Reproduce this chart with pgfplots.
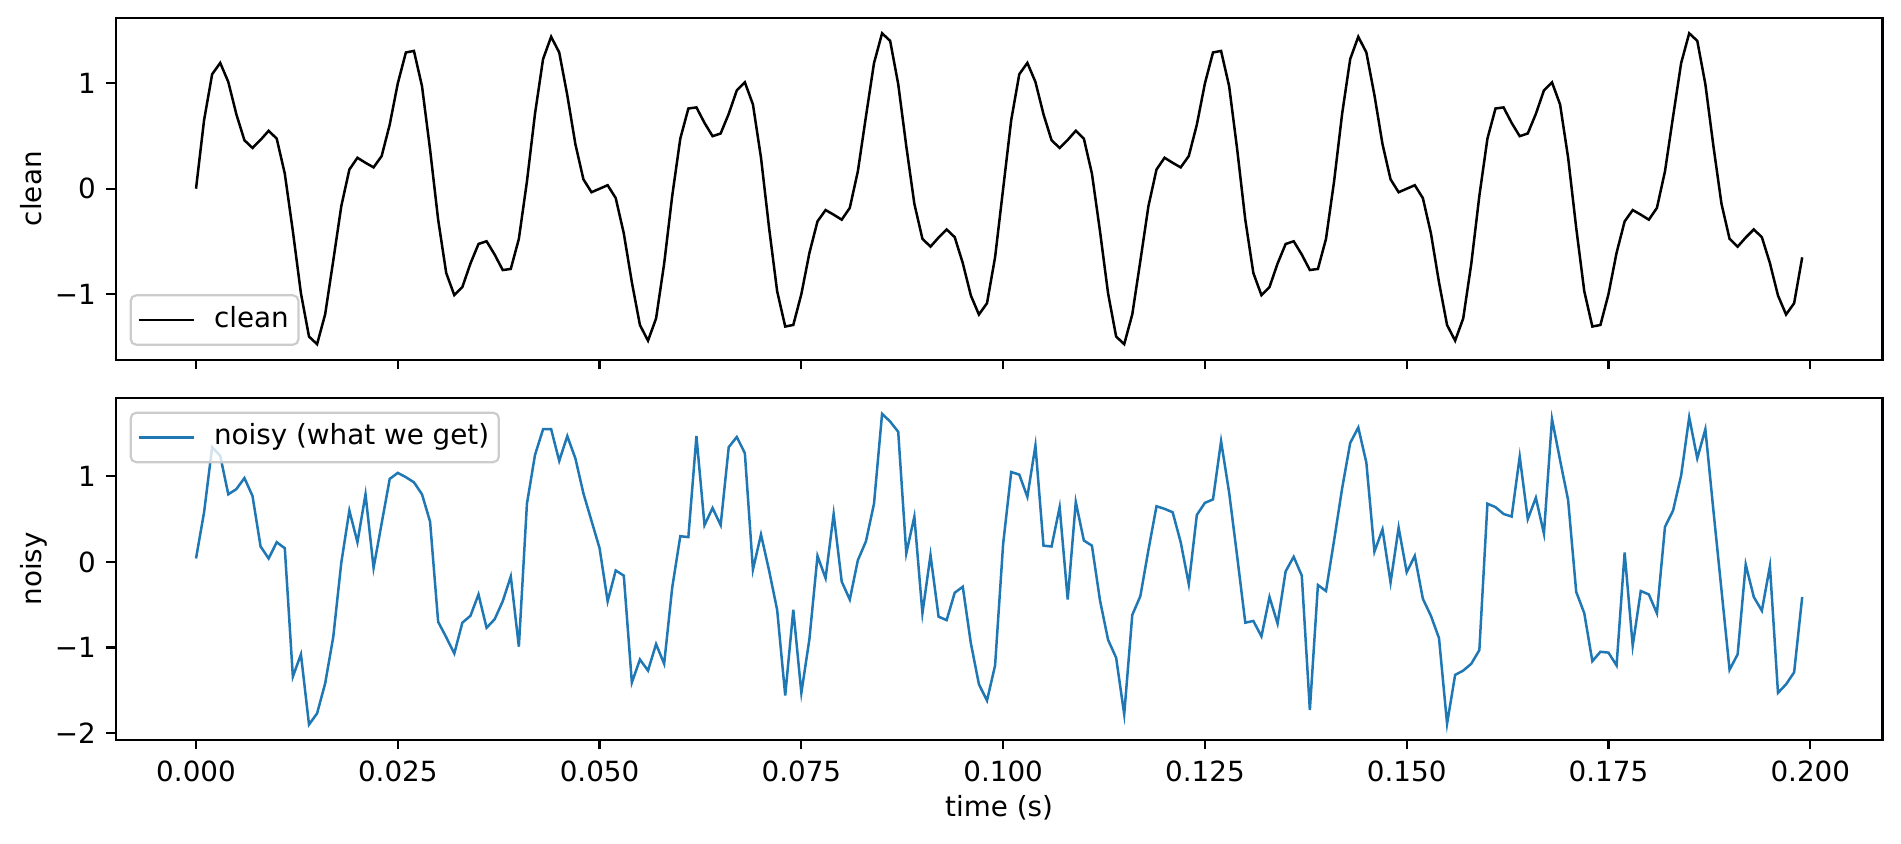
\documentclass[border=0pt]{standalone}
\usepackage{fontspec}
\setmainfont{DejaVu Sans}
\usepackage{pgfplots}
\usepackage{pgfplotstable}
\pgfplotsset{compat=1.18}
\definecolor{tabblue}{HTML}{1F77B4}

\pgfplotstableread{
t clean noisy
0.000 0 0.04
0.001 0.6513 0.58
0.002 1.0868 1.34
0.003 1.1943 1.24
0.004 1.0138 0.79
0.005 0.7061 0.85
0.006 0.4599 0.98
0.007 0.3868 0.77
0.008 0.4635 0.18
0.009 0.5499 0.04
0.010 0.4755 0.23
0.011 0.1434 0.16
0.012 -0.4037 -1.34
0.013 -0.9931 -1.08
0.014 -1.4035 -1.90
0.015 -1.4755 -1.77
0.016 -1.1920 -1.42
0.017 -0.6847 -0.88
0.018 -0.1656 -0.01
0.019 0.1822 0.60
0.020 0.2939 0.23
0.021 0.2463 0.79
0.022 0.2025 -0.07
0.023 0.3100 0.45
0.024 0.6088 0.97
0.025 1.0000 1.04
0.026 1.2934 0.99
0.027 1.3080 0.93
0.028 0.9731 0.79
0.029 0.3717 0.47
0.030 -0.2939 -0.70
0.031 -0.8002 -0.88
0.032 -1.0100 -1.07
0.033 -0.9333 -0.71
0.034 -0.7102 -0.63
0.035 -0.5245 -0.38
0.036 -0.4987 -0.77
0.037 -0.6249 -0.67
0.038 -0.7719 -0.46
0.039 -0.7614 -0.17
0.040 -0.4755 -0.99
0.041 0.0681 0.68
0.042 0.7121 1.25
0.043 1.2312 1.55
0.044 1.4423 1.55
0.045 1.2939 1.18
0.046 0.8884 1.47
0.047 0.4237 1.21
0.048 0.0888 0.80
0.049 -0.0333 0.48
0.050 0 0.16
0.051 0.0333 -0.46
0.052 -0.0888 -0.10
0.053 -0.4237 -0.16
0.054 -0.8884 -1.41
0.055 -1.2939 -1.14
0.056 -1.4423 -1.27
0.057 -1.2312 -0.96
0.058 -0.7121 -1.19
0.059 -0.0681 -0.30
0.060 0.4755 0.30
0.061 0.7614 0.29
0.062 0.7719 1.47
0.063 0.6249 0.43
0.064 0.4987 0.63
0.065 0.5245 0.43
0.066 0.7102 1.34
0.067 0.9333 1.46
0.068 1.0100 1.27
0.069 0.8002 -0.09
0.070 0.2939 0.32
0.071 -0.3717 -0.10
0.072 -0.9731 -0.56
0.073 -1.3080 -1.56
0.074 -1.2934 -0.56
0.075 -1.0000 -1.53
0.076 -0.6088 -0.90
0.077 -0.3100 0.07
0.078 -0.2025 -0.19
0.079 -0.2463 0.56
0.080 -0.2939 -0.23
0.081 -0.1822 -0.44
0.082 0.1656 0.02
0.083 0.6847 0.24
0.084 1.1920 0.68
0.085 1.4755 1.73
0.086 1.4035 1.64
0.087 0.9931 1.52
0.088 0.4037 0.10
0.089 -0.1434 0.53
0.090 -0.4755 -0.60
0.091 -0.5499 0.08
0.092 -0.4635 -0.64
0.093 -0.3868 -0.68
0.094 -0.4599 -0.36
0.095 -0.7061 -0.29
0.096 -1.0138 -0.95
0.097 -1.1943 -1.43
0.098 -1.0868 -1.62
0.099 -0.6513 -1.21
0.100 0 0.21
0.101 0.6513 1.05
0.102 1.0868 1.02
0.103 1.1943 0.76
0.104 1.0138 1.36
0.105 0.7061 0.19
0.106 0.4599 0.18
0.107 0.3868 0.64
0.108 0.4635 -0.44
0.109 0.5499 0.70
0.110 0.4755 0.25
0.111 0.1434 0.19
0.112 -0.4037 -0.45
0.113 -0.9931 -0.91
0.114 -1.4035 -1.12
0.115 -1.4755 -1.78
0.116 -1.1920 -0.62
0.117 -0.6847 -0.40
0.118 -0.1656 0.14
0.119 0.1822 0.65
0.120 0.2939 0.62
0.121 0.2463 0.58
0.122 0.2025 0.23
0.123 0.3100 -0.26
0.124 0.6088 0.55
0.125 1.0000 0.69
0.126 1.2934 0.73
0.127 1.3080 1.41
0.128 0.9731 0.81
0.129 0.3717 0.06
0.130 -0.2939 -0.71
0.131 -0.8002 -0.69
0.132 -1.0100 -0.87
0.133 -0.9333 -0.41
0.134 -0.7102 -0.72
0.135 -0.5245 -0.11
0.136 -0.4987 0.06
0.137 -0.6249 -0.16
0.138 -0.7719 -1.73
0.139 -0.7614 -0.27
0.140 -0.4755 -0.34
0.141 0.0681 0.25
0.142 0.7121 0.86
0.143 1.2312 1.39
0.144 1.4423 1.57
0.145 1.2939 1.16
0.146 0.8884 0.12
0.147 0.4237 0.38
0.148 0.0888 -0.24
0.149 -0.0333 0.40
0.150 0 -0.12
0.151 0.0333 0.07
0.152 -0.0888 -0.43
0.153 -0.4237 -0.63
0.154 -0.8884 -0.89
0.155 -1.2939 -1.89
0.156 -1.4423 -1.32
0.157 -1.2312 -1.27
0.158 -0.7121 -1.19
0.159 -0.0681 -1.03
0.160 0.4755 0.68
0.161 0.7614 0.64
0.162 0.7719 0.56
0.163 0.6249 0.53
0.164 0.4987 1.23
0.165 0.5245 0.50
0.166 0.7102 0.75
0.167 0.9333 0.33
0.168 1.0100 1.67
0.169 0.8002 1.19
0.170 0.2939 0.72
0.171 -0.3717 -0.35
0.172 -0.9731 -0.60
0.173 -1.3080 -1.16
0.174 -1.2934 -1.05
0.175 -1.0000 -1.06
0.176 -0.6088 -1.21
0.177 -0.3100 0.11
0.178 -0.2025 -0.98
0.179 -0.2463 -0.34
0.180 -0.2939 -0.38
0.181 -0.1822 -0.60
0.182 0.1656 0.41
0.183 0.6847 0.60
0.184 1.1920 1.01
0.185 1.4755 1.69
0.186 1.4035 1.21
0.187 0.9931 1.55
0.188 0.4037 0.60
0.189 -0.1434 -0.33
0.190 -0.4755 -1.26
0.191 -0.5499 -1.08
0.192 -0.4635 -0.03
0.193 -0.3868 -0.41
0.194 -0.4599 -0.57
0.195 -0.7061 -0.05
0.196 -1.0138 -1.53
0.197 -1.1943 -1.43
0.198 -1.0868 -1.29
0.199 -0.6513 -0.41
}\sig

\pgfplotsset{
  panel/.style={
    scale only axis,
    width=636pt, height=123.12pt,
    xmin=-0.00995, xmax=0.20895,
    axis line style={line width=0.8pt},
    every outer x axis line/.append style={line width=0.8pt},
    every outer y axis line/.append style={line width=0.8pt},
    tick align=outside,
    xtick pos=bottom, ytick pos=left,
    major tick length=3.5pt,
    major tick style={line width=0.8pt, black},
    minor tick num=0,
    xtick={0,0.025,0.05,0.075,0.1,0.125,0.15,0.175,0.2},
    tick label style={font=\fontsize{10}{12}\selectfont, inner sep=0pt},
    xticklabel style={anchor=north, yshift=-3.9pt},
    yticklabel style={anchor=east, xshift=-3.5pt},
    scaled x ticks=false,
    label style={font=\fontsize{10}{12}\selectfont},
    ylabel style={at={(axis description cs:-0.04143,0.5)}, anchor=south, inner sep=0pt, text depth=0pt},
    legend cell align=left,
    legend image code/.code={\draw[##1] (0pt,0pt) -- (20pt,0pt);},
    legend style={draw=black!20, line width=0.8pt, rounded corners=2pt,
      fill=white, fill opacity=0.8, text opacity=1, draw opacity=1,
      inner xsep=2.5pt, inner ysep=3pt,
      font=\fontsize{10}{12}\selectfont,
      nodes={inner sep=1pt, text depth=0.22em},
      /tikz/every odd column/.append style={column sep=5.6pt}},
  }
}

\begin{document}
\begin{tikzpicture}
\begin{axis}[panel, name=top, at={(0,0)}, anchor=north west,
  ymin=-1.6233, ymax=1.6233,
  ytick={-1,0,1}, yticklabels={−1,0,1},
  xticklabels={},
  ylabel={clean},
  legend style={at={(0,0)}, anchor=south west, xshift=5pt, yshift=5pt}]
\addplot[black, line width=0.9pt] table[x=t, y=clean] {\sig};
\addlegendentry{clean}
\end{axis}
\begin{axis}[panel, name=bot, at={(0,-136.8pt)}, anchor=north west,
  ymin=-2.078, ymax=1.918,
  ytick={-2,-1,0,1}, yticklabels={−2,−1,0,1},
  xticklabels={0.000,0.025,0.050,0.075,0.100,0.125,0.150,0.175,0.200},
  ylabel={noisy},
  xlabel={time (s)},
  xlabel style={at={(axis description cs:0.5,-0.2258)}, anchor=base, inner sep=0pt},
  legend style={at={(0,1)}, anchor=north west, xshift=5pt, yshift=-5pt}]
\addplot[tabblue, line width=0.9pt] table[x=t, y=noisy] {\sig};
\addlegendentry{noisy (what we get)}
\end{axis}
\pgfresetboundingbox
\path (-41.65pt,6.37pt) rectangle (642.66pt,-297.11pt);
\end{tikzpicture}
\end{document}
